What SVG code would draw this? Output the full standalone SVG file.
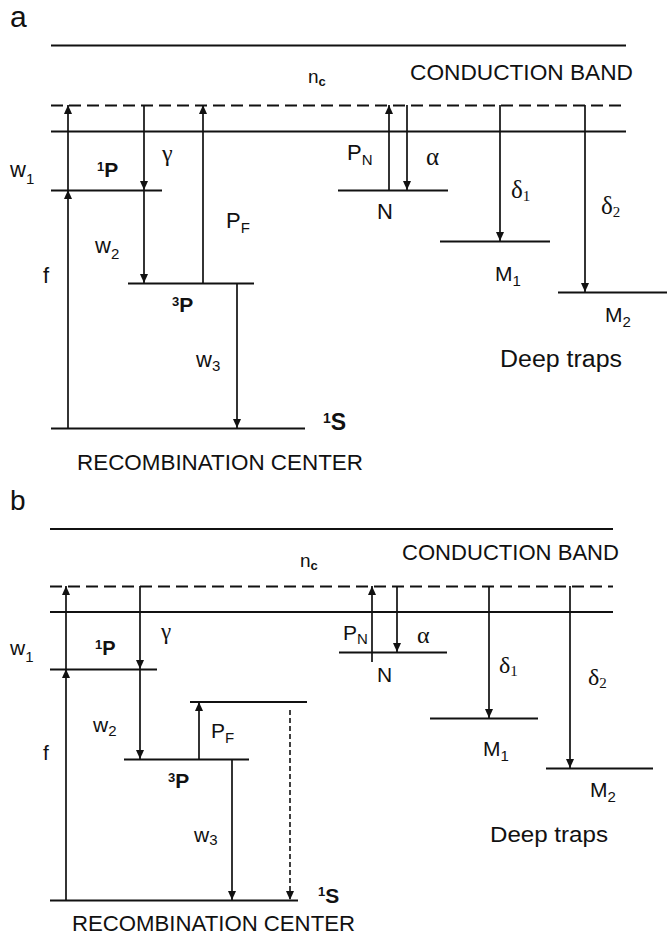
<svg xmlns="http://www.w3.org/2000/svg" width="667" height="935" viewBox="0 0 667 935">
<style>
.ln{stroke:#111;stroke-width:2;fill:none}
.dl{stroke:#111;stroke-width:2;fill:none;stroke-dasharray:12 6}
.ar{stroke:#111;stroke-width:1.7;fill:none;marker-end:url(#ah)}
.ard{stroke:#111;stroke-width:1.6;fill:none;stroke-dasharray:5 3;marker-end:url(#ah)}
text{font-family:"Liberation Sans",Arial,sans-serif;fill:#111}
.s{font-size:22px}
.sb{font-size:21px}
.sub{font-size:15px}
.b{font-weight:bold}
.gr{font-family:"Liberation Serif","Times New Roman",serif}
</style>
<defs>
<marker id="ah" viewBox="0 0 9 8" refX="9" refY="4" markerWidth="9" markerHeight="8" markerUnits="userSpaceOnUse" orient="auto">
<path d="M0,0 L9,4 L0,8 z" fill="#111"/>
</marker>
</defs>
<rect width="667" height="935" fill="#fff"/>

<!-- PANEL A -->
<text id="label-a" x="10" y="27" style="font-size:30px">a</text>
<g id="a-band">
<line class="ln" x1="51" y1="45.5" x2="626" y2="45.5"/>
<line class="dl" x1="51" y1="105.5" x2="626" y2="105.5"/>
<line class="ln" x1="51" y1="131.5" x2="626" y2="131.5"/>
<text x="308" y="83" style="font-size:19px">n<tspan dy="3" style="font-size:13px;font-weight:bold">c</tspan></text>
<text class="s" x="410" y="80" textLength="223" lengthAdjust="spacingAndGlyphs">CONDUCTION BAND</text>
</g>
<g id="a-1P">
<line class="ln" x1="51" y1="190.5" x2="162" y2="190.5"/>
<text class="b" x="97" y="177"><tspan style="font-size:13px" dy="-6">1</tspan><tspan style="font-size:21px" dy="6">P</tspan></text>
</g>
<g id="a-3P">
<line class="ln" x1="128" y1="283.5" x2="254" y2="283.5"/>
<text class="b" x="172" y="312"><tspan style="font-size:13px" dy="-6">3</tspan><tspan style="font-size:21px" dy="6">P</tspan></text>
</g>
<g id="a-1S">
<line class="ln" x1="51" y1="428.5" x2="305" y2="428.5"/>
<text class="b" x="323" y="430"><tspan style="font-size:14px" dy="-7">1</tspan><tspan style="font-size:23px" dy="7">S</tspan></text>
<text class="s" x="77" y="470" textLength="286" lengthAdjust="spacingAndGlyphs">RECOMBINATION CENTER</text>
</g>
<g id="a-N">
<line class="ln" x1="338" y1="190.5" x2="448" y2="190.5"/>
<text class="s" x="377" y="219">N</text>
</g>
<g id="a-M1">
<line class="ln" x1="440" y1="241.5" x2="550" y2="241.5"/>
<text class="sb" x="495" y="281">M<tspan class="sub" dy="5">1</tspan></text>
</g>
<g id="a-M2">
<line class="ln" x1="558" y1="292.5" x2="667" y2="292.5"/>
<text class="sb" x="605" y="322">M<tspan class="sub" dy="5">2</tspan></text>
<text x="500" y="367" style="font-size:23px" textLength="122" lengthAdjust="spacingAndGlyphs">Deep traps</text>
</g>
<g id="a-connectors">
<line class="ar" x1="68" y1="428" x2="68" y2="190"/>
<line class="ar" x1="68" y1="190" x2="68" y2="105"/>
<line class="ar" x1="144" y1="105" x2="144" y2="190"/>
<line class="ar" x1="144" y1="190" x2="144" y2="283"/>
<line class="ar" x1="203" y1="283" x2="203" y2="105"/>
<line class="ar" x1="237" y1="283" x2="237" y2="428"/>
<line class="ar" x1="389" y1="190" x2="389" y2="105"/>
<line class="ar" x1="407" y1="105" x2="407" y2="190"/>
<line class="ar" x1="500" y1="105" x2="500" y2="241"/>
<line class="ar" x1="585" y1="105" x2="585" y2="292"/>
<text class="s" x="10" y="177">w<tspan class="sub" dy="7">1</tspan></text>
<text class="s" x="43" y="283">f</text>
<text class="gr" x="162" y="161" style="font-size:24px">γ</text>
<text class="s" x="95" y="253">w<tspan class="sub" dy="6">2</tspan></text>
<text class="s" x="226" y="228">P<tspan class="sub" dy="5">F</tspan></text>
<text class="s" x="196" y="367">w<tspan class="sub" dy="4">3</tspan></text>
<text class="s" x="347" y="160">P<tspan class="sub" dy="5">N</tspan></text>
<text class="gr" x="426" y="165" style="font-size:25px">α</text>
<text class="gr" x="511" y="198" style="font-size:25px">δ<tspan class="sub" dy="3">1</tspan></text>
<text class="gr" x="601" y="214" style="font-size:25px">δ<tspan class="sub" dy="3">2</tspan></text>
</g>

<!-- PANEL B -->
<text id="label-b" x="10" y="510" style="font-size:28px">b</text>
<g id="b-band">
<line class="ln" x1="50" y1="529" x2="613" y2="529"/>
<line class="dl" x1="50" y1="586.5" x2="613" y2="586.5"/>
<line class="ln" x1="50" y1="612" x2="613" y2="612"/>
<text x="300" y="567" style="font-size:19px">n<tspan dy="3" style="font-size:13px;font-weight:bold">c</tspan></text>
<text class="s" x="402" y="560" textLength="217" lengthAdjust="spacingAndGlyphs">CONDUCTION BAND</text>
</g>
<g id="b-1P">
<line class="ln" x1="50" y1="669.5" x2="157" y2="669.5"/>
<text class="b" x="95" y="655"><tspan style="font-size:13px" dy="-6">1</tspan><tspan style="font-size:20px" dy="6">P</tspan></text>
</g>
<g id="b-3P">
<line class="ln" x1="124" y1="759.5" x2="249" y2="759.5"/>
<text class="b" x="168" y="788"><tspan style="font-size:13px" dy="-6">3</tspan><tspan style="font-size:21px" dy="6">P</tspan></text>
</g>
<g id="b-upper">
<line class="ln" x1="190" y1="702" x2="307" y2="702"/>
</g>
<g id="b-1S">
<line class="ln" x1="50" y1="900.5" x2="298" y2="900.5"/>
<text class="b" x="318" y="903"><tspan style="font-size:13px" dy="-7">1</tspan><tspan style="font-size:21px" dy="7">S</tspan></text>
<text class="s" x="72" y="931" textLength="283" lengthAdjust="spacingAndGlyphs">RECOMBINATION CENTER</text>
</g>
<g id="b-N">
<line class="ln" x1="339" y1="652.5" x2="447" y2="652.5"/>
<text class="sb" x="377" y="682">N</text>
</g>
<g id="b-M1">
<line class="ln" x1="430" y1="718.5" x2="538" y2="718.5"/>
<text class="sb" x="483" y="756">M<tspan class="sub" dy="5">1</tspan></text>
</g>
<g id="b-M2">
<line class="ln" x1="546" y1="768.5" x2="653" y2="768.5"/>
<text class="sb" x="590" y="797">M<tspan class="sub" dy="5">2</tspan></text>
<text x="490" y="842" style="font-size:22px" textLength="118" lengthAdjust="spacingAndGlyphs">Deep traps</text>
</g>
<g id="b-connectors">
<line class="ar" x1="66" y1="900" x2="66" y2="669"/>
<line class="ar" x1="66" y1="669" x2="66" y2="586"/>
<line class="ar" x1="140" y1="586" x2="140" y2="669"/>
<line class="ar" x1="140" y1="669" x2="140" y2="759"/>
<line class="ar" x1="199" y1="759" x2="199" y2="702"/>
<line class="ar" x1="232" y1="759" x2="232" y2="900"/>
<line class="ard" x1="290" y1="710" x2="290" y2="900"/>
<line class="ar" x1="372" y1="662" x2="372" y2="586"/>
<line class="ar" x1="397" y1="586" x2="397" y2="652"/>
<line class="ar" x1="489" y1="586" x2="489" y2="718"/>
<line class="ar" x1="570" y1="586" x2="570" y2="768"/>
<text class="sb" x="10" y="655">w<tspan class="sub" dy="7">1</tspan></text>
<text class="sb" x="43" y="760">f</text>
<text class="gr" x="161" y="639" style="font-size:23px">γ</text>
<text class="sb" x="93" y="732">w<tspan class="sub" dy="4">2</tspan></text>
<text class="sb" x="211" y="738">P<tspan class="sub" dy="5">F</tspan></text>
<text class="sb" x="194" y="842">w<tspan class="sub" dy="3">3</tspan></text>
<text class="sb" x="343" y="640">P<tspan class="sub" dy="4">N</tspan></text>
<text class="gr" x="417" y="643" style="font-size:24px">α</text>
<text class="gr" x="499" y="673" style="font-size:24px">δ<tspan class="sub" dy="3">1</tspan></text>
<text class="gr" x="588" y="685" style="font-size:24px">δ<tspan class="sub" dy="3">2</tspan></text>
</g>
</svg>
